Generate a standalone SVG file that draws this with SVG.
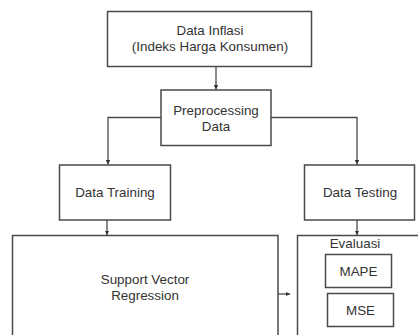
<svg xmlns="http://www.w3.org/2000/svg" width="418" height="335" viewBox="0 0 418 335">
<defs>
<style>
.box{fill:#fff;stroke:#4a4a4a;stroke-width:1.5}
.t{font-family:"Liberation Sans",Arial,sans-serif;font-size:13.4px;fill:#333;text-anchor:middle}
.c{fill:none;stroke:#4a4a4a;stroke-width:1.3}
</style>
<marker id="ah" viewBox="0 0 6 6" refX="6" refY="3" markerWidth="4.5" markerHeight="4.5" orient="auto" markerUnits="userSpaceOnUse">
<path d="M0,0 L6,3 L0,6 Z" fill="#333"/>
</marker>
</defs>
<rect width="418" height="335" fill="#fff"/>
<g id="n-inflasi">
<rect class="box" x="107.5" y="11.5" width="204" height="55"/>
<text class="t" x="210" y="35">Data Inflasi</text>
<text class="t" x="210" y="51">(Indeks Harga Konsumen)</text>
</g>
<g id="n-preprocessing">
<rect class="box" x="161" y="90" width="110" height="55.5"/>
<text class="t" x="216" y="115">Preprocessing</text>
<text class="t" x="216" y="131">Data</text>
</g>
<g id="n-training">
<rect class="box" x="59.5" y="165" width="111" height="55"/>
<text class="t" x="115" y="197">Data Training</text>
</g>
<g id="n-testing">
<rect class="box" x="304.5" y="165" width="110" height="55"/>
<text class="t" x="360" y="197">Data Testing</text>
</g>
<g id="n-svr">
<rect class="box" x="12.5" y="235.5" width="265.5" height="110"/>
<text class="t" x="145" y="284">Support Vector</text>
<text class="t" x="145" y="300">Regression</text>
</g>
<g id="n-evaluasi">
<rect class="box" x="297.5" y="235.5" width="130" height="110"/>
<text class="t" x="355" y="248">Evaluasi</text>
<g id="n-mape">
<rect class="box" x="325.5" y="254.5" width="66" height="33"/>
<text class="t" x="358.5" y="276">MAPE</text>
</g>
<g id="n-mse">
<rect class="box" x="327.5" y="293.5" width="66" height="33"/>
<text class="t" x="360.5" y="315">MSE</text>
</g>
</g>
<g id="connectors">
<path class="c" d="M216,67 V89.5" marker-end="url(#ah)"/>
<path class="c" d="M161,117.5 H108 V164.5" marker-end="url(#ah)"/>
<path class="c" d="M271,117.5 H357 V164.5" marker-end="url(#ah)"/>
<path class="c" d="M107,220 V235" marker-end="url(#ah)"/>
<path class="c" d="M357,220 V235" marker-end="url(#ah)"/>
<path class="c" d="M278,294 H290" marker-end="url(#ah)"/>
</g>
</svg>
